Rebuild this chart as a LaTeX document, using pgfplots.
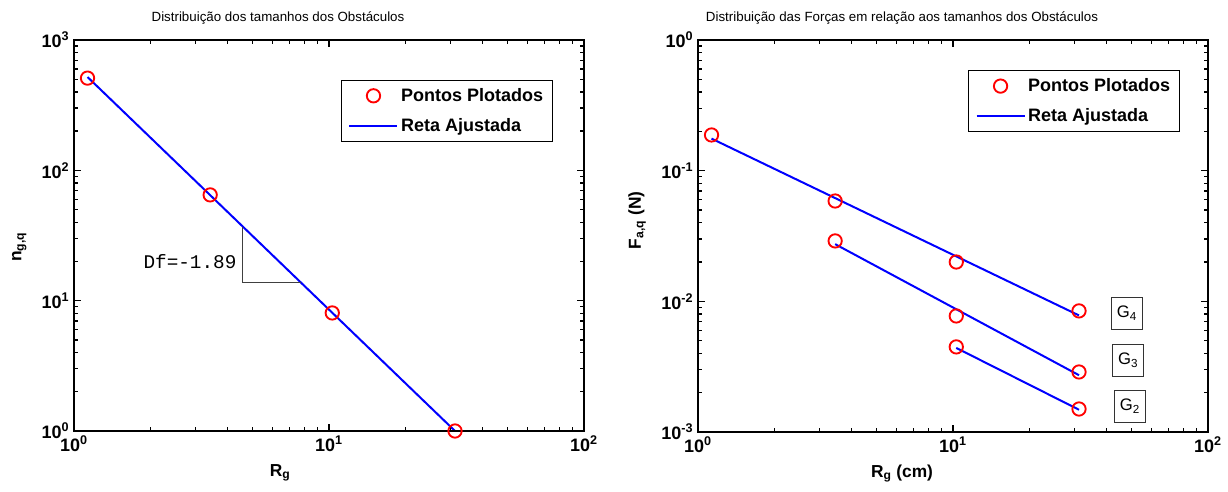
\documentclass[border=0pt]{standalone}
\usepackage{fontspec}
\setmainfont{Liberation Sans}
\newfontfamily\monofont{Liberation Mono}
\usepackage{pgfplots}
\pgfplotsset{compat=1.18}

\newcommand{\dec}[1]{10\textsuperscript{#1}}

\begin{document}
\begin{tikzpicture}
\path[use as bounding box] (0,0) rectangle (921pt,369pt);

% Obstacle size distribution
\begin{axis}[
  xmode=log, ymode=log,
  scale only axis,
  clip=false,
  axis on top,
  at={(55.5pt,45.75pt)}, anchor=south west,
  width=382.5pt, height=293.25pt,
  axis line style={line width=1.5pt},
  every tick/.append style={black, line width=1pt},
  tickwidth=5pt, subtickwidth=3pt,
  tick align=inside,
  ticklabel style={font=\fontsize{13.5}{15}\selectfont\bfseries},
  xmin=1, xmax=100,
  xtick={1,10,100},
  xticklabels={\dec{0},\dec{1},\dec{2}},
  minor xtick={2,3,4,5,6,7,8,9,20,30,40,50,60,70,80,90},
  ymin=1, ymax=1000,
  ytick={1,10,100,1000},
  yticklabels={\dec{0},\dec{1},\dec{2},\dec{3}},
  minor ytick={2,3,4,5,6,7,8,9,20,30,40,50,60,70,80,90,200,300,400,500,600,700,800,900},
  title={Distribuição dos tamanhos dos Obstáculos},
  title style={font=\fontsize{10}{12}\selectfont, at={(0.40,1)}, anchor=base, yshift=8pt},
  xlabel={R\textsubscript{g}},
  ylabel={n\textsubscript{g,q}},
  label style={font=\fontsize{13}{15}\selectfont\bfseries},
  xlabel style={at={(0.404,0)}, anchor=base, yshift=-34pt},
  ylabel style={at={(-0.103,0.47)}, anchor=base},
  legend style={draw=black, line width=0.6pt,
    font=\fontsize{13.5}{15}\selectfont\bfseries,
    inner xsep=5pt, inner ysep=4pt, row sep=7pt,
    cells={anchor=west},
    at={(0.939,0.898)}, anchor=north east},
]
\addplot[only marks, mark=o, red, mark size=5pt, line width=1.4pt,
  legend image code/.code={\draw[red, line width=1.4pt, mark=o, mark size=5pt, only marks] plot coordinates {(18pt,0pt)};}]
  coordinates {(1.13,510) (3.42,64.8) (10.3,8.05) (31.2,1.0)};
\addlegendentry{Pontos Plotados}
\addplot[blue, line width=1.5pt, no marks,
  legend image code/.code={\draw[blue, line width=1.5pt] (0pt,0pt) -- (36pt,0pt);}]
  coordinates {(1.13,520) (31.2,1.0)};
\addlegendentry{Reta Ajustada}
% slope triangle
\draw[black!75, line width=0.6pt] (axis cs:4.56,37) -- (axis cs:4.56,13.7) -- (axis cs:7.77,13.7);
\node[anchor=east, font=\monofont\fontsize{14.5}{16}\selectfont, inner sep=2pt] at (axis cs:4.45,19.8) {Df=-1.89};
\end{axis}

% Force distribution versus obstacle size
\begin{axis}[
  xmode=log, ymode=log,
  scale only axis,
  clip=false,
  axis on top,
  at={(523.5pt,45pt)}, anchor=south west,
  width=382.5pt, height=294pt,
  axis line style={line width=1.5pt},
  every tick/.append style={black, line width=1pt},
  tickwidth=5pt, subtickwidth=3pt,
  tick align=inside,
  ticklabel style={font=\fontsize{13.5}{15}\selectfont\bfseries},
  xmin=1, xmax=100,
  xtick={1,10,100},
  xticklabels={\dec{0},\dec{1},\dec{2}},
  minor xtick={2,3,4,5,6,7,8,9,20,30,40,50,60,70,80,90},
  ymin=0.001, ymax=1,
  ytick={0.001,0.01,0.1,1},
  yticklabels={\dec{-3},\dec{-2},\dec{-1},\dec{0}},
  minor ytick={0.002,0.003,0.004,0.005,0.006,0.007,0.008,0.009,0.02,0.03,0.04,0.05,0.06,0.07,0.08,0.09,0.2,0.3,0.4,0.5,0.6,0.7,0.8,0.9},
  title={Distribuição das Forças em relação aos tamanhos dos Obstáculos},
  title style={font=\fontsize{10}{12}\selectfont, at={(0.40,1)}, anchor=base, yshift=8pt},
  xlabel={R\textsubscript{g} (cm)},
  ylabel={F\textsubscript{a,q} (N)},
  label style={font=\fontsize{13}{15}\selectfont\bfseries},
  xlabel style={at={(0.40,0)}, anchor=base, yshift=-34pt},
  ylabel style={at={(-0.112,0.54)}, anchor=base},
  legend style={draw=black, line width=0.6pt,
    font=\fontsize{13.5}{15}\selectfont\bfseries,
    inner xsep=5pt, inner ysep=4pt, row sep=7pt,
    cells={anchor=west},
    at={(0.945,0.923)}, anchor=north east},
]
% G4
\addplot[only marks, mark=o, red, mark size=5pt, line width=1.4pt,
  legend image code/.code={\draw[red, line width=1.4pt, mark=o, mark size=5pt, only marks] plot coordinates {(18pt,0pt)};}]
  coordinates {(1.13,0.1876) (3.45,0.0586) (10.3,0.0200) (31.2,0.00845)};
\addlegendentry{Pontos Plotados}
\addplot[blue, line width=1.5pt, no marks,
  legend image code/.code={\draw[blue, line width=1.5pt] (0pt,0pt) -- (36pt,0pt);}]
  coordinates {(1.13,0.176) (31.2,0.0078)};
\addlegendentry{Reta Ajustada}
% G3
\addplot[only marks, mark=o, red, mark size=5pt, line width=1.4pt, forget plot]
  coordinates {(3.45,0.029) (10.3,0.00773) (31.2,0.00288)};
\addplot[blue, line width=1.5pt, no marks, forget plot]
  coordinates {(3.45,0.0274) (31.2,0.00272)};
% G2
\addplot[only marks, mark=o, red, mark size=5pt, line width=1.4pt, forget plot]
  coordinates {(10.3,0.00448) (31.2,0.0015)};
\addplot[blue, line width=1.5pt, no marks, forget plot]
  coordinates {(10.3,0.0044) (31.2,0.00148)};
\node[draw=black!80, line width=0.6pt, minimum width=23pt, minimum height=24pt, inner sep=1pt, font=\fontsize{12.5}{14}\selectfont] at (axis cs:48.1,0.00815) {G\textsubscript{4}};
\node[draw=black!80, line width=0.6pt, minimum width=23pt, minimum height=24pt, inner sep=1pt, font=\fontsize{12.5}{14}\selectfont] at (axis cs:48.6,0.00356) {G\textsubscript{3}};
\node[draw=black!80, line width=0.6pt, minimum width=23pt, minimum height=24pt, inner sep=1pt, font=\fontsize{12.5}{14}\selectfont] at (axis cs:49.4,0.00158) {G\textsubscript{2}};
\end{axis}
\end{tikzpicture}
\end{document}
